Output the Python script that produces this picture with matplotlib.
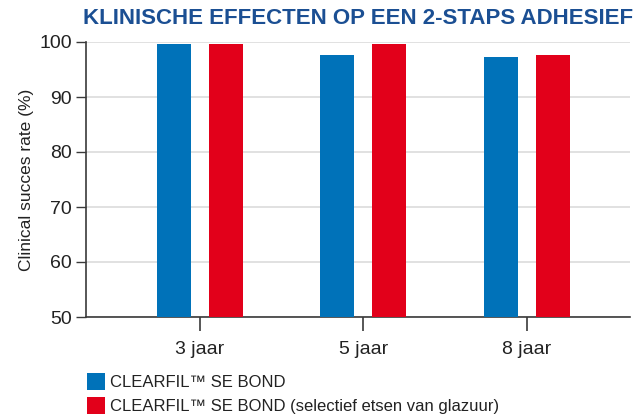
import numpy as np
import matplotlib
matplotlib.use('Agg')
import matplotlib.pyplot as plt

plt.rcParams['font.family'] = ['Liberation Sans', 'DejaVu Sans']

periods = ['3 jaar', '5 jaar', '8 jaar']
se_bond = [99.7, 97.7, 97.3]
se_bond_etch = [99.7, 99.7, 97.7]
series_names = ['CLEARFIL™ SE BOND', 'CLEARFIL™ SE BOND (selectief etsen van glazuur)']

blue = '#0072b9'
red = '#e2001a'
titleColor = '#1b4f93'
axisColor = '#3a3a3a'
textColor = '#222222'

fig = plt.figure(figsize=(6.41, 4.2), dpi=100)
ax = fig.add_axes([86/641, 1 - 317/420, 544/641, 275/420])

x = np.arange(len(periods))
w = 0.208
off = 0.159
b1 = ax.bar(x - off, se_bond, w, color=blue, zorder=3)
b2 = ax.bar(x + off, se_bond_etch, w, color=red, zorder=3)

ax.set_ylim(50, 100)
ax.set_xlim(-0.697, 2.63)
ax.set_yticks(range(50, 101, 10))
ax.set_xticks(x)
ax.set_xticklabels(periods)
ax.yaxis.grid(True, color='#dcdcdc', linewidth=1.2, zorder=0)

for s in ['top', 'right']:
    ax.spines[s].set_visible(False)
ax.spines['left'].set_color(axisColor)
ax.spines['bottom'].set_color(axisColor)
ax.spines['left'].set_linewidth(1.2)
ax.spines['bottom'].set_linewidth(1.2)

ax.tick_params(axis='y', length=7, width=1, colors=axisColor, labelsize=14, labelcolor=textColor, pad=3)
ax.tick_params(axis='x', length=10, width=1.2, colors=axisColor, labelsize=14, labelcolor=textColor, pad=7)
ax.set_ylabel('Clinical succes rate (%)', fontsize=12.5, color=textColor, labelpad=4)

fig.text(358/641, 1 - 18/420, 'KLINISCHE EFFECTEN OP EEN 2-STAPS ADHESIEF',
         fontsize=16, fontweight='bold', color=titleColor, ha='center', va='center')

fig.legend([b1, b2], series_names, loc='upper left', bbox_to_anchor=(80/641, 1 - 366/420),
           frameon=False, fontsize=12, handlelength=1.1, handleheight=1.2,
           handletextpad=0.3, labelspacing=0.45, borderaxespad=0, labelcolor=textColor)

fig.savefig('out.png', dpi=100)
